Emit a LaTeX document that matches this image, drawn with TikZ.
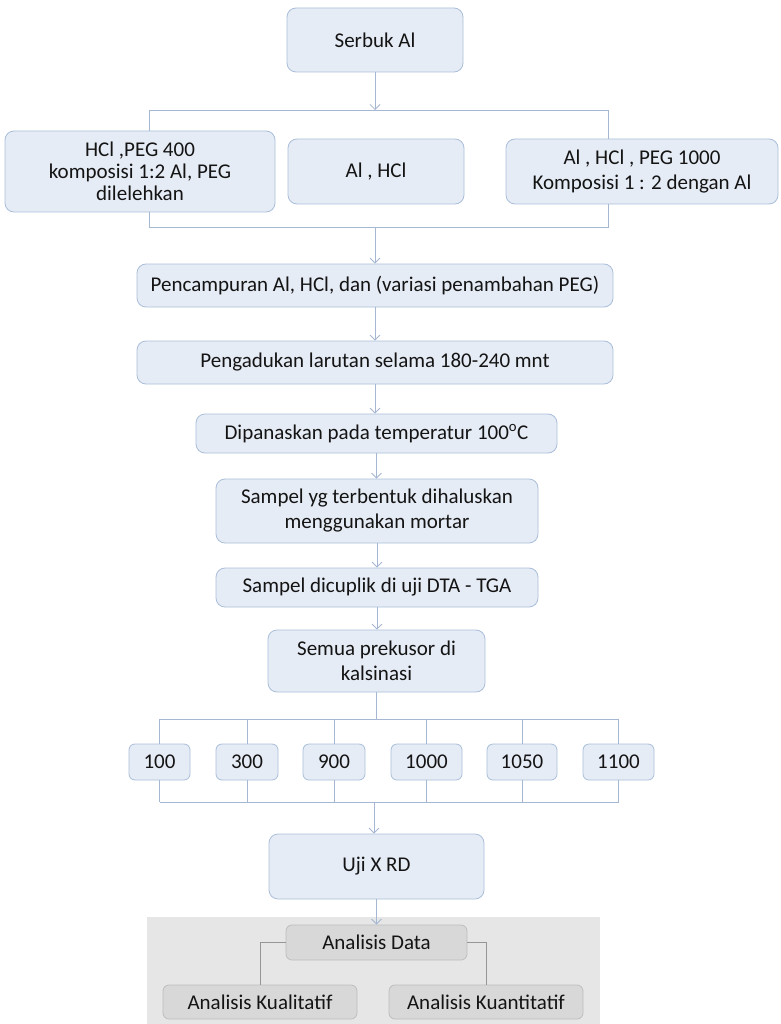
\documentclass[tikz,border=0pt]{standalone}
\usepackage{fontspec}
\setmainfont{Carlito}
\usetikzlibrary{arrows.meta,calc}
\definecolor{bfill}{RGB}{230,236,245}
\definecolor{bline}{RGB}{170,190,218}
\definecolor{cline}{RGB}{165,183,210}
\definecolor{gbg}{RGB}{230,230,230}
\definecolor{gfill}{RGB}{216,216,216}
\definecolor{gline}{RGB}{190,190,190}
\definecolor{gconn}{RGB}{150,150,150}
\definecolor{txt}{RGB}{20,20,20}
\tikzset{
  bbox/.style={draw=bline, fill=bfill, rounded corners=9pt, line width=0.8pt, align=center,
    inner sep=0pt, font=\fontsize{21}{25}\selectfont, text=txt},
  sbox/.style={bbox, rounded corners=6pt},
  gbox/.style={draw=gline, fill=gfill, rounded corners=6pt, line width=0.8pt, align=center,
    inner sep=0pt, font=\fontsize{21}{25}\selectfont, text=txt},
  conn/.style={draw=cline, line width=0.8pt},
  arr/.style={conn, -{Straight Barb[length=5pt,width=10pt,line width=0.8pt]}},
  gconnst/.style={draw=gconn, line width=0.8pt},
}
\begin{document}
\begin{tikzpicture}[x=1pt,y=-1pt]
\useasboundingbox (0,0) rectangle (780,1024);
\fill[white] (0,0) rectangle (780,1024);
\fill[gbg] (147,917) rectangle (600,1024);

% nodes
\node[bbox, minimum width=176, minimum height=64] (serbuk) at (375,40) {Serbuk Al};
\node[bbox, minimum width=270, minimum height=81, font=\fontsize{21}{22}\selectfont] (left) at (140,171.5) {HCl ,PEG 400\\komposisi 1:2 Al, PEG\\dilelehkan};
\node[bbox, minimum width=176, minimum height=65] (mid) at (376,171.5) {Al , HCl};
\node[bbox, minimum width=272, minimum height=65] (right) at (642,171.5) {Al , HCl , PEG 1000\\Komposisi 1 : 2 dengan Al};
\node[bbox, minimum width=476, minimum height=43] (pencamp) at (375,285.5) {Pencampuran Al, HCl, dan (variasi penambahan PEG)};
\node[bbox, minimum width=476, minimum height=43] (pengad) at (375,362.5) {Pengadukan larutan selama 180-240 mnt};
\node[bbox, minimum width=361, minimum height=39] (dipan) at (376.5,433.5) {Dipanaskan pada temperatur 100\textsuperscript{o}C};
\node[bbox, minimum width=322, minimum height=64] (sampel) at (377,511) {Sampel yg terbentuk dihaluskan\\menggunakan mortar};
\node[bbox, minimum width=322, minimum height=39] (dicup) at (377,587.5) {Sampel dicuplik di uji DTA - TGA};
\node[bbox, minimum width=217, minimum height=62] (semua) at (376.5,661) {Semua prekusor di\\kalsinasi};

\node[sbox, minimum width=61, minimum height=36] (t1) at (159.5,762) {100};
\node[sbox, minimum width=62, minimum height=36] (t2) at (247,762) {300};
\node[sbox, minimum width=62, minimum height=36] (t3) at (334,762) {900};
\node[sbox, minimum width=71, minimum height=36] (t4) at (426.5,762) {1000};
\node[sbox, minimum width=70, minimum height=36] (t5) at (522,762) {1050};
\node[sbox, minimum width=71, minimum height=36] (t6) at (618.5,762) {1100};

\node[bbox, minimum width=215, minimum height=65] (uji) at (376.5,866.5) {Uji X RD};

\node[gbox, minimum width=181, minimum height=35] (adata) at (376.5,942.5) {Analisis Data};
\node[gbox, minimum width=194, minimum height=34] (kual) at (260,1002) {Analisis Kualitatif};
\node[gbox, minimum width=194, minimum height=34] (kuan) at (486,1002) {Analisis Kuantitatif};

% top split
\coordinate (jt) at (375,110);
\coordinate (jtl) at (149,110);
\coordinate (jtr) at (608,110);
\draw[arr] (serbuk.south) -- (jt);
\draw[conn] (jtl) -- (jtr);
\draw[conn] (jtl) -- (jtl |- left.north);
\draw[conn] (jtr) -- (jtr |- right.north);
% bottom merge
\coordinate (jb) at (375,227);
\coordinate (jbl) at (149,227);
\coordinate (jbr) at (608,227);
\draw[conn] (jbl |- left.south) -- (jbl) -- (jbr) -- (jbr |- right.south);
\draw[arr] (jb) -- (jb |- pencamp.north);

\draw[arr] (pencamp.south) -- (pencamp.south |- pengad.north);
\draw[arr] (pengad.south) -- (pengad.south |- dipan.north);
\draw[arr] (dipan.south) -- (dipan.south |- sampel.north);
\draw[arr] (sampel.south) -- (sampel.south |- dicup.north);
\draw[arr] (dicup.south) -- (dicup.south |- semua.north);

% temperature split
\coordinate (ktl) at (160,719);
\coordinate (ktr) at (618,719);
\coordinate (kb) at (374,802);
\coordinate (kbl) at (160,802);
\coordinate (kbr) at (619,802);
\draw[conn] (semua.south) -- (semua.south |- ktl);
\draw[conn] (ktl) -- (ktr);
\foreach \n in {t1,t2,t3,t4,t5,t6}{
  \draw[conn] (\n.north) -- (\n.north |- ktl);
  \draw[conn] (\n.south) -- (\n.south |- kbl);
}
\draw[conn] (kbl) -- (kbr);
\draw[arr] (kb) -- (kb |- uji.north);

\draw[arr] (uji.south) -- (uji.south |- adata.north);
\draw[gconnst] (adata.west) -| (kual.north);
\draw[gconnst] (adata.east) -| (kuan.north);
\end{tikzpicture}
\end{document}
